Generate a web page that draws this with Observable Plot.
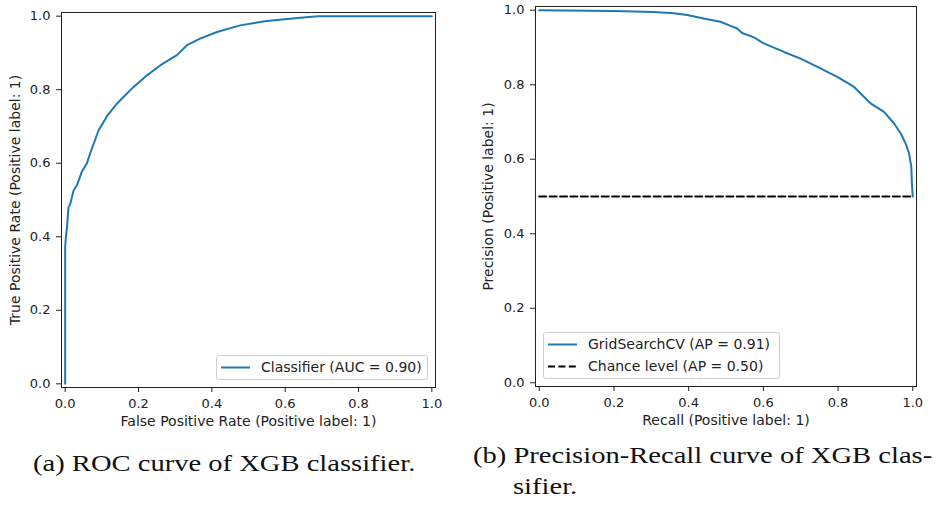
<!DOCTYPE html>
<html>
<head>
<meta charset="utf-8">
<script src="https://cdn.jsdelivr.net/npm/d3@7"></script>
<script src="https://cdn.jsdelivr.net/npm/@observablehq/plot@0.6"></script>
<style>
  html, body { margin: 0; padding: 0; background: #fff; }
  #wrap { position: relative; width: 946px; height: 508px; overflow: hidden; background: #fff; }
  .panel { position: absolute; top: 0; }
  .legend { position: absolute; border: 1px solid #cfcfcf; border-radius: 3px; background: rgba(255,255,255,0.85);
            font-family: "DejaVu Sans", sans-serif; font-size: 14px; color: #222; box-sizing: border-box; }
  .legend .row { position: absolute; left: 0; height: 20px; line-height: 20px; white-space: nowrap; }
  .legend svg { position: absolute; top: 0; }
  .legend span { position: absolute; }
  .cap { position: absolute; font-family: "Liberation Serif", "Times New Roman", serif; font-size: 24px; line-height: 24px;
         color: #111; white-space: nowrap; transform: scaleX(1.19); transform-origin: 0 0; }
</style>
</head>
<body>
<div id="wrap"></div>
<script>
// ---------- data ----------
const rocFpr = [0, 0, 0.002, 0.005, 0.009, 0.014, 0.023, 0.032, 0.045, 0.059, 0.07, 0.091, 0.114, 0.141, 0.159, 0.186, 0.223, 0.259, 0.29, 0.305, 0.332, 0.368, 0.414, 0.477, 0.55, 0.641, 0.69, 0.8, 1.0];
const rocTpr = [0, 0.37, 0.40, 0.426, 0.48, 0.49, 0.526, 0.54, 0.576, 0.599, 0.632, 0.689, 0.728, 0.762, 0.78, 0.807, 0.839, 0.866, 0.885, 0.894, 0.921, 0.939, 0.957, 0.975, 0.987, 0.996, 1.0, 1.0, 1.0];

const prRecall = [0, 0.2, 0.306, 0.36, 0.396, 0.44, 0.485, 0.512, 0.53, 0.543, 0.575, 0.601, 0.655, 0.70, 0.753, 0.798, 0.843, 0.887, 0.923, 0.95, 0.968, 0.981, 0.99, 0.996, 0.998, 1.0];
const prPrecision = [1.0, 0.998, 0.995, 0.992, 0.987, 0.978, 0.969, 0.958, 0.951, 0.939, 0.927, 0.911, 0.888, 0.870, 0.844, 0.821, 0.794, 0.750, 0.727, 0.696, 0.669, 0.642, 0.616, 0.58, 0.53, 0.5];

const chanceRecall = [0, 1];
const chancePrecision = [0.5, 0.5];

const tickValues = [0, 0.2, 0.4, 0.6, 0.8, 1.0];
const rocXLabel = "False Positive Rate (Positive label: 1)";
const rocYLabel = "True Positive Rate (Positive label: 1)";
const prXLabel = "Recall (Positive label: 1)";
const prYLabel = "Precision (Positive label: 1)";
const rocLegend = ["Classifier (AUC = 0.90)"];
const prLegend = ["GridSearchCV (AP = 0.91)", "Chance level (AP = 0.50)"];
const captionA = ["(a) ROC curve of XGB classifier."];
const captionB = ["(b) Precision-Recall curve of XGB clas-", "sifier."];

// ---------- build tables ----------
const roc = rocFpr.map((x, i) => ({fpr: x, tpr: rocTpr[i]}));
const pr = prRecall.map((x, i) => ({recall: x, precision: prPrecision[i]}));
const chance = chanceRecall.map((x, i) => ({recall: x, precision: chancePrecision[i]}));

const BLUE = "#1f77b4";
const INK = "#222";
const fmt = d => d.toFixed(1);

function axes() {
  return [
    Plot.frame({stroke: INK, strokeWidth: 1}),
    Plot.axisX({ticks: tickValues, tickSize: 5, tickPadding: 6, tickFormat: fmt, label: null, stroke: INK, fill: INK}),
    Plot.axisY({ticks: tickValues, tickSize: 5, tickPadding: 6, tickFormat: fmt, label: null, stroke: INK, fill: INK})
  ];
}

const common = {
  style: {fontFamily: "DejaVu Sans, sans-serif", fontSize: "13px", color: INK, background: "transparent", overflow: "visible"}
};

const rocPlot = Plot.plot({
  ...common,
  width: 470, height: 440,
  marginLeft: 61, marginRight: 35, marginTop: 12, marginBottom: 53,
  x: {domain: [-0.01, 1.01], label: null},
  y: {domain: [-0.01, 1.01], label: null},
  marks: [
    ...axes(),
    Plot.line(roc, {x: "fpr", y: "tpr", stroke: BLUE, strokeWidth: 2}),
    Plot.text([rocXLabel], {text: d => d, frameAnchor: "bottom", textAnchor: "middle", dy: 38, fontSize: 14, fill: INK}),
    Plot.text([rocYLabel], {text: d => d, frameAnchor: "left", textAnchor: "middle", rotate: -90, dx: -46, fontSize: 14, fill: INK})
  ]
});

const prPlot = Plot.plot({
  ...common,
  width: 476, height: 440,
  marginLeft: 65, marginRight: 30, marginTop: 6, marginBottom: 54,
  x: {domain: [-0.01, 1.01], label: null},
  y: {domain: [-0.01, 1.01], label: null},
  marks: [
    ...axes(),
    Plot.line(pr, {x: "recall", y: "precision", stroke: BLUE, strokeWidth: 2}),
    Plot.line(chance, {x: "recall", y: "precision", stroke: "black", strokeWidth: 2, strokeDasharray: "7,3.4"}),
    Plot.text([prXLabel], {text: d => d, frameAnchor: "bottom", textAnchor: "middle", dy: 38, fontSize: 14, fill: INK}),
    Plot.text([prYLabel], {text: d => d, frameAnchor: "left", textAnchor: "middle", rotate: -90, dx: -47, fontSize: 14, fill: INK})
  ]
});

const wrap = document.getElementById("wrap");
rocPlot.classList.add("panel"); rocPlot.style.left = "0px";
prPlot.classList.add("panel"); prPlot.style.left = "470px";
wrap.appendChild(rocPlot);
wrap.appendChild(prPlot);

// ---------- legends ----------
function legend(left, top, width, entries) {
  const box = document.createElement("div");
  box.className = "legend";
  box.style.left = left + "px"; box.style.top = top + "px";
  box.style.width = width + "px"; box.style.height = (entries.length * 22 + 3) + "px";
  entries.forEach((e, i) => {
    const row = document.createElement("div");
    row.className = "row";
    row.style.top = (1 + i * 21.7) + "px";
    row.style.width = "100%";
    row.innerHTML = `<svg width="40" height="20" style="left:4px"><line x1="0" x2="29" y1="10.5" y2="10.5" stroke="${e.color}" stroke-width="2" ${e.dash ? `stroke-dasharray="${e.dash}"` : ""}/></svg><span style="left:44px">${e.label}</span>`;
    box.appendChild(row);
  });
  wrap.appendChild(box);
}
legend(216, 355, 212, [{label: rocLegend[0], color: BLUE}]);
legend(543, 332, 237, [{label: prLegend[0], color: BLUE}, {label: prLegend[1], color: "black", dash: "7,3.4"}]);

// ---------- captions ----------
function caption(text, left, baseline) {
  const d = document.createElement("div");
  d.className = "cap";
  d.textContent = text;
  d.style.left = left + "px";
  d.style.top = (baseline - 20.1) + "px";
  wrap.appendChild(d);
}
caption(captionA[0], 33, 470.7);
caption(captionB[0], 473, 462.7);
caption(captionB[1], 513, 494);
</script>
</body>
</html>
